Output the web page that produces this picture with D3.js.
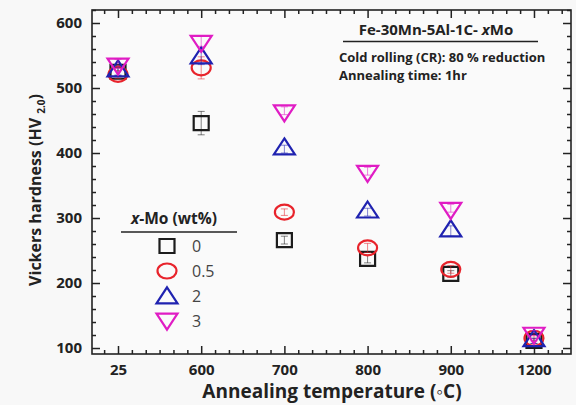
<!DOCTYPE html>
<html><head><meta charset="utf-8">
<script src="https://cdn.jsdelivr.net/npm/d3@7"></script>
<style>html,body{margin:0;padding:0;background:#f8f8f8;}svg{display:block;}</style>
</head><body><div id="chart"></div>
<script>
const temps = ["25","600","700","800","900","1200"];
const mo0  = [525, 446, 266, 237, 214, 111];
const mo05 = [521, 531, 309, 254, 221, 115];
const mo2  = [526, 546, 406, 309, 280, 111];
const mo3  = [537, 572, 465, 372, 315, 123];
const err0  = [6, 18, 6, 6, 5, 4];
const err05 = [6, 17, 5, 7, 6, 4];
const err2  = [6, 10, 6, 6, 8, 4];
const err3  = [7, 8, 6, 6, 6, 4];
const seriesNames = ["0","0.5","2","3"];
const yTicks = [100,200,300,400,500,600];

const W=576,H=405;
const L=92,R=571,T=10,B=354;
const svg=d3.select("#chart").append("svg").attr("width",W).attr("height",H);
svg.append("rect").attr("width",W).attr("height",H).attr("fill","#f8f8f8");

const x=d3.scaleLinear().domain([-0.3125,5.445]).range([L,R]);
const y=d3.scaleLinear().domain([90.8,620]).range([B,T]);
const font="'Open Sans', sans-serif";

// frame
svg.append("rect").attr("x",L).attr("y",T).attr("width",R-L).attr("height",B-T)
  .attr("fill","#fafafa").attr("stroke","#222").attr("stroke-width",1.6);

// axes with inward ticks
const gx=svg.append("g").attr("transform",`translate(0,${B})`);
gx.call(d3.axisBottom(x).tickValues(d3.range(temps.length)).tickFormat(i=>temps[i]).tickSizeInner(-8).tickSizeOuter(0).tickPadding(10));
const minorX=d3.range(-1,33).map(k=>k/6).filter(v=>Math.abs(v-Math.round(v))>1e-6);
const gxm=svg.append("g").attr("transform",`translate(0,${B})`);
gxm.call(d3.axisBottom(x).tickValues(minorX).tickFormat("").tickSizeInner(-4).tickSizeOuter(0));
const gxt=svg.append("g").attr("transform",`translate(0,${T})`);
gxt.call(d3.axisTop(x).tickValues(d3.range(temps.length)).tickFormat("").tickSizeInner(-8).tickSizeOuter(0));
const gxtm=svg.append("g").attr("transform",`translate(0,${T})`);
gxtm.call(d3.axisTop(x).tickValues(minorX).tickFormat("").tickSizeInner(-4).tickSizeOuter(0));

const minorY=d3.range(100,621,20).filter(v=>v%100!==0);
const gy=svg.append("g").attr("transform",`translate(${L},0)`);
gy.call(d3.axisLeft(y).tickValues(yTicks).tickFormat(d3.format("d")).tickSizeInner(-8).tickSizeOuter(0).tickPadding(10));
const gym=svg.append("g").attr("transform",`translate(${L},0)`);
gym.call(d3.axisLeft(y).tickValues(minorY).tickFormat("").tickSizeInner(-4).tickSizeOuter(0));
const gyr=svg.append("g").attr("transform",`translate(${R},0)`);
gyr.call(d3.axisRight(y).tickValues(yTicks).tickFormat("").tickSizeInner(-8).tickSizeOuter(0));
const gyrm=svg.append("g").attr("transform",`translate(${R},0)`);
gyrm.call(d3.axisRight(y).tickValues(minorY).tickFormat("").tickSizeInner(-4).tickSizeOuter(0));

svg.selectAll(".domain").remove();
svg.selectAll(".tick line").attr("stroke","#222").attr("stroke-width",1.5);
svg.selectAll(".tick text").attr("font-family",font).attr("font-weight","bold").attr("font-size","15px").attr("fill","#222");

// marker paths
function markerPath(type,w,h){
  if(type==="square") return `M${-w/2},${-h/2}H${w/2}V${h/2}H${-w/2}Z`;
  if(type==="circle") return `M${-w/2},0A${w/2},${h/2} 0 1,0 ${w/2},0A${w/2},${h/2} 0 1,0 ${-w/2},0Z`;
  if(type==="up") return `M0,${-2*h/3}L${w/2},${h/3}L${-w/2},${h/3}Z`;
  return `M0,${2*h/3}L${w/2},${-h/3}L${-w/2},${-h/3}Z`;
}
const series=[
  {vals:mo0,err:err0,type:"square",color:"#1c1c1c",w:15,h:14},
  {vals:mo05,err:err05,type:"circle",color:"#e8232b",w:19,h:15},
  {vals:mo2,err:err2,type:"up",color:"#1f22b0",w:21,h:16},
  {vals:mo3,err:err3,type:"down",color:"#e01cc4",w:21,h:16}
];
series.forEach(s=>{
  const g=svg.append("g");
  s.vals.forEach((v,i)=>{
    const cx=x(i),cy=y(v);
    g.append("path").attr("d",markerPath(s.type,s.w,s.h)).attr("transform",`translate(${cx},${cy})`)
      .attr("fill","none").attr("stroke",s.color).attr("stroke-width",2.2);
    const e=s.err[i];
    const eb=g.append("g").attr("stroke",s.color).attr("stroke-opacity",0.55).attr("stroke-width",1);
    eb.append("line").attr("x1",cx).attr("x2",cx).attr("y1",y(v-e)).attr("y2",y(v+e));
    eb.append("line").attr("x1",cx-3.5).attr("x2",cx+3.5).attr("y1",y(v-e)).attr("y2",y(v-e));
    eb.append("line").attr("x1",cx-3.5).attr("x2",cx+3.5).attr("y1",y(v+e)).attr("y2",y(v+e));
  });
});

// annotation
const ann=svg.append("g").attr("font-family",font).attr("font-weight","bold").attr("font-size","13px").attr("fill","#222");
const t1=ann.append("text").attr("x",436).attr("y",35).attr("text-anchor","middle").attr("font-size","15px");
t1.append("tspan").text("Fe-30Mn-5Al-1C- ");
t1.append("tspan").attr("font-style","italic").text("x");
t1.append("tspan").text("Mo");
ann.append("line").attr("x1",343).attr("x2",538).attr("y1",41.5).attr("y2",41.5).attr("stroke","#222").attr("stroke-width",1.3);
ann.append("text").attr("x",339).attr("y",62).text("Cold rolling (CR): 80 % reduction");
ann.append("text").attr("x",339).attr("y",80).text("Annealing time: 1hr");

// legend
const lg=svg.append("g").attr("font-family",font);
const lt=lg.append("text").attr("x",174).attr("y",224).attr("text-anchor","middle").attr("font-weight","bold").attr("font-size","15.5px").attr("fill","#222");
lt.append("tspan").attr("font-style","italic").text("x");
lt.append("tspan").text("-Mo (wt%)");
lg.append("line").attr("x1",121).attr("x2",237).attr("y1",232).attr("y2",232).attr("stroke","#222").attr("stroke-width",1.3);
series.forEach((s,k)=>{
  const ly=246+k*25;
  lg.append("path").attr("d",markerPath(s.type,s.w,s.h)).attr("transform",`translate(167,${ly + (s.type==="up"?2:s.type==="down"?-2:0)})`)
    .attr("fill","none").attr("stroke",s.color).attr("stroke-width",2.2);
  lg.append("text").attr("x",192).attr("y",ly+6).attr("font-size","16px").attr("fill","#444").text(seriesNames[k]);
});

// axis titles
svg.append("text").attr("x",332).attr("y",398).attr("text-anchor","middle")
  .attr("font-family",font).attr("font-weight","bold").attr("font-size","19px").attr("fill","#222")
  .text("Annealing temperature (\u25E6C)");
const yl=svg.append("text").attr("transform","translate(41,190) rotate(-90)").attr("text-anchor","middle")
  .attr("font-family",font).attr("font-weight","bold").attr("font-size","16px").attr("fill","#222");
yl.append("tspan").text("Vickers hardness (HV ");
yl.append("tspan").attr("font-size","10px").attr("dy",4).text("2.0");
yl.append("tspan").attr("dy",-4).text(")");
</script></body></html>
